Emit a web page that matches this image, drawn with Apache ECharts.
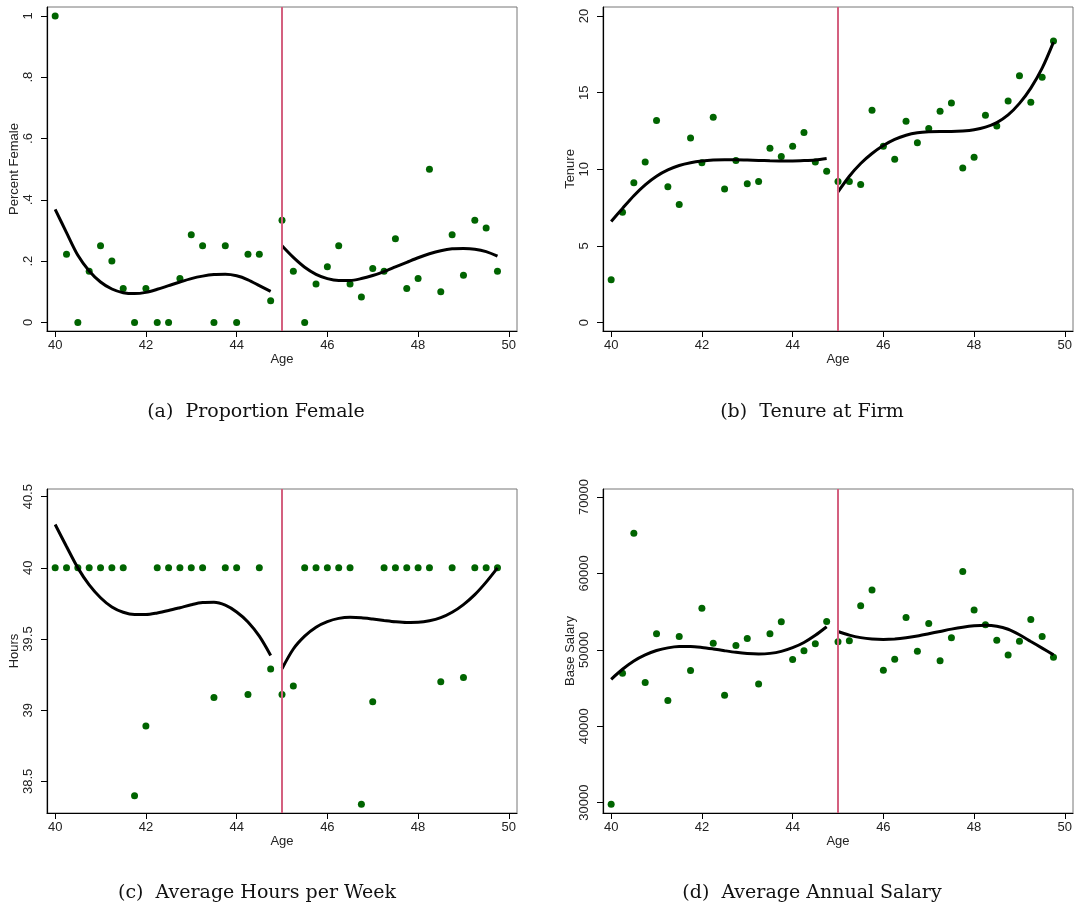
<!DOCTYPE html>
<html>
<head>
<meta charset="utf-8">
<title>RD plots by age</title>
<script src="https://cdn.jsdelivr.net/npm/echarts@6/dist/echarts.min.js"></script>
<style>
  html, body { margin: 0; padding: 0; background: #fff; }
  #chart { width: 1078px; height: 911px; }
</style>
</head>
<body>
<div id="chart"></div>
<script>
// ages on either side of the cutoff (45)
const ageLeft = [40, 40.25, 40.5, 40.75, 41, 41.25, 41.5, 41.75, 42, 42.25, 42.5, 42.75, 43, 43.25, 43.5, 43.75, 44, 44.25, 44.5, 44.75]
const ageRight = [45, 45.25, 45.5, 45.75, 46, 46.25, 46.5, 46.75, 47, 47.25, 47.5, 47.75, 48, 48.25, 48.5, 48.75, 49, 49.25, 49.5, 49.75]
const cutoff = 45
const ageTicks = [40, 42, 44, 46, 48, 50]

// (a) Proportion Female
const femaleLeft = [1, 0.222, 0, 0.167, 0.25, 0.2, 0.111, 0, 0.111, 0, 0, 0.143, 0.286, 0.25, 0, 0.25, 0, 0.222, 0.222, 0.071]
const femaleRight = [0.333, 0.167, 0, 0.125, 0.182, 0.25, 0.125, 0.083, 0.176, 0.167, 0.273, 0.111, 0.143, 0.5, 0.1, 0.286, 0.154, 0.333, 0.308, 0.167]
const femaleFitLeft = [0.369, 0.293, 0.219, 0.168, 0.132, 0.109, 0.097, 0.094, 0.098, 0.108, 0.12, 0.132, 0.143, 0.151, 0.156, 0.157, 0.152, 0.139, 0.12, 0.101]
const femaleFitRight = [0.25, 0.212, 0.18, 0.157, 0.143, 0.137, 0.137, 0.143, 0.153, 0.166, 0.181, 0.196, 0.211, 0.224, 0.234, 0.24, 0.241, 0.239, 0.231, 0.216]
const femaleTicks = [0, 0.2, 0.4, 0.6, 0.8, 1]
const femaleTickText = ['0', '.2', '.4', '.6', '.8', '1']

// (b) Tenure at Firm
const tenureLeft = [2.8, 7.19, 9.12, 10.47, 13.18, 8.86, 7.71, 12.05, 10.42, 13.4, 8.71, 10.58, 9.06, 9.21, 11.38, 10.84, 11.51, 12.4, 10.47, 9.88]
const tenureRight = [9.21, 9.21, 9.01, 13.85, 11.51, 10.66, 13.14, 11.73, 12.66, 13.79, 14.33, 10.08, 10.79, 13.53, 12.83, 14.46, 16.11, 14.38, 16.0, 18.37]
const tenureFitLeft = [6.6, 7.45, 8.28, 8.99, 9.55, 9.96, 10.25, 10.43, 10.54, 10.6, 10.62, 10.62, 10.6, 10.58, 10.56, 10.55, 10.55, 10.57, 10.61, 10.7]
const tenureFitRight = [8.53, 9.55, 10.38, 11.03, 11.55, 11.95, 12.22, 12.38, 12.45, 12.47, 12.47, 12.5, 12.58, 12.75, 13.05, 13.55, 14.3, 15.3, 16.6, 18.3]
const tenureTicks = [0, 5, 10, 15, 20]

// (c) Average Hours per Week
const hoursLeft = [40, 40, 40, 40, 40, 40, 40, 38.4, 38.89, 40, 40, 40, 40, 40, 39.09, 40, 40, 39.11, 40, 39.29]
const hoursRight = [39.11, 39.17, 40, 40, 40, 40, 40, 38.34, 39.06, 40, 40, 40, 40, 40, 39.2, 40, 39.23, 40, 40, 40]
const hoursFitLeft = [40.305, 40.15, 40.0, 39.88, 39.79, 39.725, 39.688, 39.672, 39.672, 39.683, 39.7, 39.72, 39.741, 39.756, 39.758, 39.738, 39.69, 39.62, 39.52, 39.385]
const hoursFitRight = [39.291, 39.43, 39.52, 39.583, 39.622, 39.645, 39.653, 39.65, 39.641, 39.631, 39.622, 39.617, 39.618, 39.628, 39.65, 39.688, 39.742, 39.812, 39.9, 40.0]
const hoursTicks = [38.5, 39, 39.5, 40, 40.5]

// (d) Average Annual Salary
const salaryLeft = [29800, 46940, 65260, 45720, 52100, 43360, 51750, 47290, 55460, 50870, 44060, 50570, 51490, 45540, 52100, 53670, 48730, 49870, 50790, 53720]
const salaryRight = [51050, 51180, 55770, 57830, 47330, 48780, 54240, 49830, 53450, 48560, 51570, 60270, 55200, 53280, 51270, 49340, 51140, 53980, 51750, 49040]
const salaryFitLeft = [46150, 47460, 48540, 49340, 49910, 50260, 50430, 50440, 50320, 50120, 49890, 49680, 49530, 49470, 49540, 49800, 50280, 50960, 51900, 53020]
const salaryFitRight = [52400, 51930, 51600, 51420, 51360, 51420, 51580, 51820, 52110, 52410, 52710, 52960, 53140, 53220, 53100, 52700, 51980, 51100, 50230, 49340]
const salaryTicks = [30000, 40000, 50000, 60000, 70000]

const panels = [
  { yName: 'Percent Female', yl: femaleLeft, yr: femaleRight, fl: femaleFitLeft, fr: femaleFitRight,
    ticks: femaleTicks, tickText: femaleTickText, min: -0.028, max: 1.029, caption: '(a)  Proportion Female' },
  { yName: 'Tenure', yl: tenureLeft, yr: tenureRight, fl: tenureFitLeft, fr: tenureFitRight,
    ticks: tenureTicks, min: -0.55, max: 20.59, caption: '(b)  Tenure at Firm' },
  { yName: 'Hours', yl: hoursLeft, yr: hoursRight, fl: hoursFitLeft, fr: hoursFitRight,
    ticks: hoursTicks, min: 38.278, max: 40.554, caption: '(c)  Average Hours per Week' },
  { yName: 'Base Salary', yl: salaryLeft, yr: salaryRight, fl: salaryFitLeft, fr: salaryFitRight,
    ticks: salaryTicks, min: 28650, max: 71050, caption: '(d)  Average Annual Salary' }
]

const boxes = [
  { left: 47, top: 7 },
  { left: 603, top: 7 },
  { left: 47, top: 489 },
  { left: 603, top: 489 }
]
const boxW = 470
const boxH = 324
const captionPos = [[256, 412], [812, 412], [257, 893], [812, 893]]

const sans = 'Liberation Sans, Arial, sans-serif'
const dotColor = '#006400'
const cutColor = '#d4607f'

const pairs = (xs, ys) => xs.map((x, i) => [x, ys[i]])

const grid = [], xAxis = [], yAxis = [], series = [], graphic = []

panels.forEach((p, i) => {
  const b = boxes[i]
  grid.push({ left: b.left, top: b.top, width: boxW, height: boxH, show: true, borderColor: '#777', borderWidth: 1, backgroundColor: '#fff' })

  xAxis.push({
    gridIndex: i, type: 'value', min: 39.82, max: 50.18,
    name: 'Age', nameLocation: 'middle', nameGap: 21,
    nameTextStyle: { fontFamily: sans, fontSize: 13, color: '#222', verticalAlign: 'top' },
    axisLine: { onZero: false, lineStyle: { color: '#000', width: 1.2 } },
    axisTick: { customValues: ageTicks, length: 6, lineStyle: { color: '#000' } },
    axisLabel: { customValues: ageTicks, fontFamily: sans, fontSize: 13, color: '#222', margin: 8 },
    splitLine: { show: false }
  })

  yAxis.push({
    gridIndex: i, type: 'value', min: p.min, max: p.max,
    name: p.yName, nameLocation: 'middle', nameGap: 26,
    nameTextStyle: { fontFamily: sans, fontSize: 13, color: '#222' },
    axisLine: { show: true, onZero: false, lineStyle: { color: '#000', width: 1.2 } },
    axisTick: { customValues: p.ticks, length: 6, lineStyle: { color: '#000' } },
    axisLabel: {
      customValues: p.ticks, rotate: 90, fontFamily: sans, fontSize: 13, color: '#222', margin: 12,
      formatter: v => p.tickText ? p.tickText[p.ticks.indexOf(v)] : String(v)
    },
    splitLine: { show: false }
  })

  series.push({
    type: 'scatter', xAxisIndex: i, yAxisIndex: i, symbolSize: 7,
    itemStyle: { color: dotColor, opacity: 1 },
    data: pairs(ageLeft, p.yl).concat(pairs(ageRight, p.yr)),
    markLine: {
      silent: true, symbol: 'none', label: { show: false },
      lineStyle: { color: cutColor, width: 2, type: 'solid' },
      data: [{ xAxis: cutoff }]
    },
    z: 3
  })
  const fitStyle = { color: '#000', width: 3 }
  series.push({ type: 'line', xAxisIndex: i, yAxisIndex: i, showSymbol: false, smooth: 0.3, lineStyle: fitStyle, data: pairs(ageLeft, p.fl), z: 4 })
  series.push({ type: 'line', xAxisIndex: i, yAxisIndex: i, showSymbol: false, smooth: 0.3, lineStyle: fitStyle, data: pairs(ageRight, p.fr), z: 4 })

  graphic.push({
    type: 'text', x: captionPos[i][0], y: captionPos[i][1],
    style: { text: p.caption, font: '19px "DejaVu Serif", serif', fill: '#111', align: 'center', verticalAlign: 'middle' }
  })
})

const chart = echarts.init(document.getElementById('chart'), null, { renderer: 'canvas' })
chart.setOption({
  animation: false,
  grid, xAxis, yAxis, series, graphic
})
</script>
</body>
</html>
